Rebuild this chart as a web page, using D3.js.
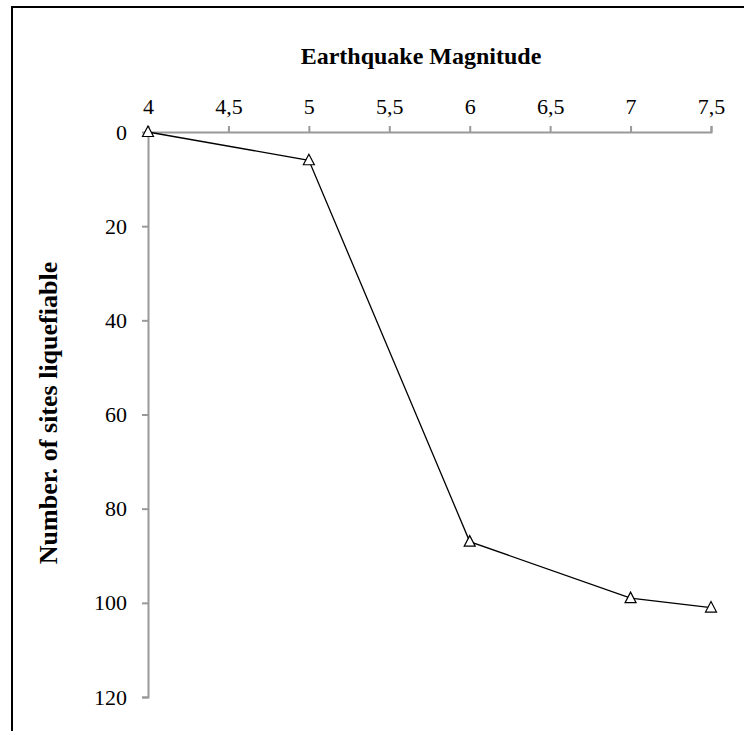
<!DOCTYPE html>
<html>
<head>
<meta charset="utf-8">
<script src="https://cdn.jsdelivr.net/npm/d3@7"></script>
<style>
  body { margin: 0; background: #fff; }
  text { font-family: "Liberation Serif", "Times New Roman", serif; }
</style>
</head>
<body>
<script>
// magnitudes and liquefiable site counts
const magnitudes = [4, 5, 6, 7, 7.5];
const siteCounts = [0, 6, 87, 99, 101];
const xTicks = [4, 4.5, 5, 5.5, 6, 6.5, 7, 7.5];
const yTicks = [0, 20, 40, 60, 80, 100, 120];

const width = 744, height = 731;

let svg = d3.select("body").append("svg")
  .attr("width", width)
  .attr("height", height);

// outer frame (right and bottom run off the picture)
svg.append("rect")
  .attr("x", 12).attr("y", 7)
  .attr("width", 760).attr("height", 760)
  .attr("fill", "none")
  .attr("stroke", "#000")
  .attr("stroke-width", 2);

let x = d3.scaleLinear().domain([4, 7.5]).range([148, 711]);
let y = d3.scaleLinear().domain([0, 120]).range([132, 697]);

const fmt = d => String(d).replace(".", ",");

// x axis on top
let xAxis = svg.append("g")
  .attr("transform", "translate(0,132)")
  .call(d3.axisTop(x).tickValues(xTicks).tickFormat(fmt).tickSizeOuter(0).tickSize(6).tickPadding(12));

// y axis
let yAxis = svg.append("g")
  .attr("transform", "translate(148,0)")
  .call(d3.axisLeft(y).tickValues(yTicks).tickSizeOuter(0).tickSize(6).tickPadding(15));

[xAxis, yAxis].forEach(g => {
  g.select(".domain").attr("stroke", "#999").attr("stroke-width", 2);
  g.selectAll(".tick line").attr("stroke", "#999").attr("stroke-width", 2);
  g.selectAll(".tick text")
    .attr("fill", "#000")
    .style("font-family", "'Liberation Serif', serif")
    .style("font-size", "22px");
});
yAxis.selectAll(".tick").filter(d => d === 0).select("line").remove();

// titles
svg.append("text")
  .attr("x", 421).attr("y", 64)
  .attr("text-anchor", "middle")
  .style("font-size", "24px")
  .style("font-weight", "bold")
  .text("Earthquake Magnitude");

svg.append("text")
  .attr("transform", "translate(57,413) rotate(-90)")
  .attr("text-anchor", "middle")
  .style("font-size", "26px")
  .style("font-weight", "bold")
  .text("Number. of sites liquefiable");

const pts = magnitudes.map((m, i) => [m, siteCounts[i]]);

svg.append("path")
  .datum(pts)
  .attr("fill", "none")
  .attr("stroke", "#000")
  .attr("stroke-width", 1.3)
  .attr("d", d3.line().x(d => x(d[0])).y(d => y(d[1])));

svg.selectAll(".marker")
  .data(pts)
  .enter().append("path")
  .attr("class", "marker")
  .attr("transform", d => "translate(" + x(d[0]) + "," + y(d[1]) + ")")
  .attr("d", "M0,-6L5.5,4.5L-5.5,4.5Z")
  .attr("fill", "#fff")
  .attr("stroke", "#000")
  .attr("stroke-width", 1.2);
</script>
</body>
</html>
